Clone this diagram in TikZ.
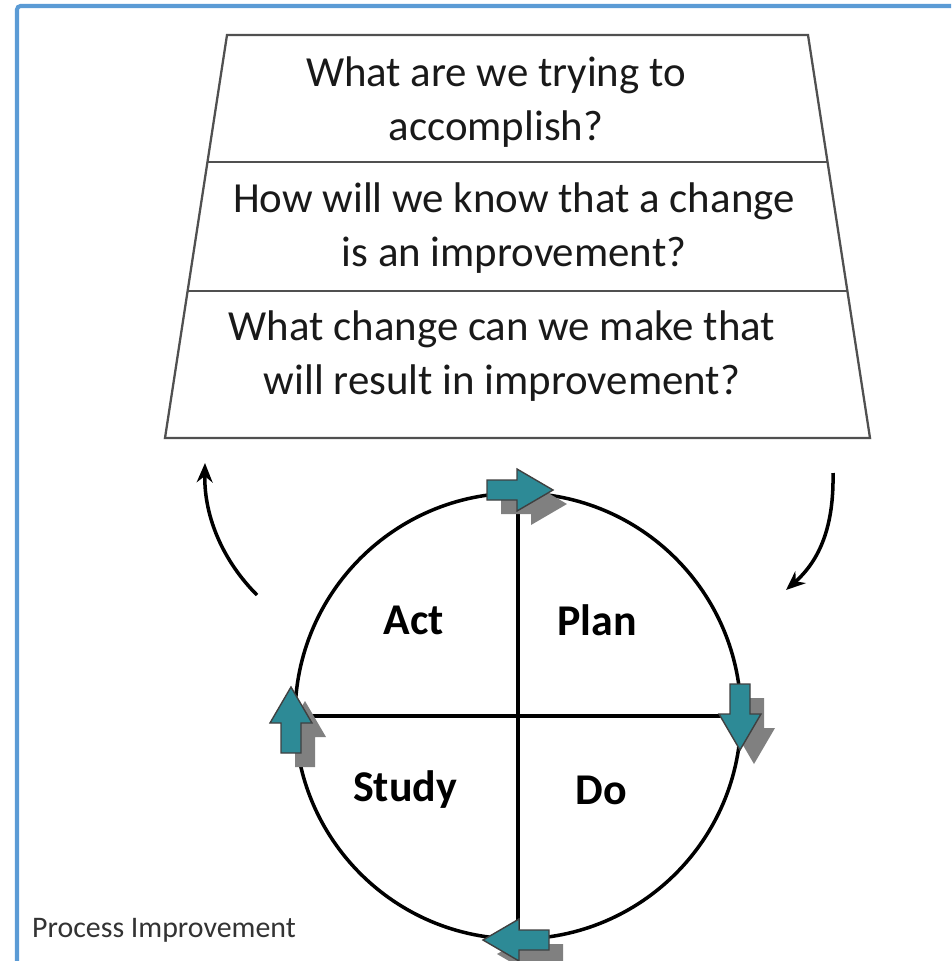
\documentclass[tikz,border=0pt]{standalone}
\usepackage{fontspec}
\setmainfont{Carlito}
\usepackage{tikz}
\usetikzlibrary{calc,positioning,arrows.meta}

\definecolor{frameblue}{RGB}{91,155,213}
\definecolor{pdsateal}{RGB}{45,138,150}
\definecolor{shadowgray}{RGB}{128,128,128}
\definecolor{funnelgray}{RGB}{80,80,80}

% turning arrow on the cycle: x, y, rotation
\newcommand{\cyclearrow}[3]{%
  \begin{scope}[shift={(#1+14,#2+14)},rotate=#3]
    \fill[shadowgray] (-33,-10) -- (-3,-10) -- (-3,-21) -- (33,0) -- (-3,21) -- (-3,10) -- (-33,10) -- cycle;
  \end{scope}
  \begin{scope}[shift={(#1,#2)},rotate=#3]
    \filldraw[fill=pdsateal,draw=black!75,line width=0.8pt] (-33,-10) -- (-3,-10) -- (-3,-21) -- (33,0) -- (-3,21) -- (-3,10) -- (-33,10) -- cycle;
  \end{scope}}

\begin{document}
\begin{tikzpicture}[x=0.02cm,y=-0.02cm,
  question/.style={align=center,text=black!90,font=\fontsize{24.4}{31}\selectfont},
  phase/.style={font=\bfseries\fontsize{25}{30}\selectfont},
  turn/.style={-{Stealth[length=11pt,width=9pt]},line width=2pt}]
\useasboundingbox (0,0) rectangle (951,961);

%Frame
\draw[frameblue,line width=2.3pt,rounded corners=2] (17,961) -- (17,6) -- (951,6);

%Funnel of questions
\coordinate (tl) at (227,35);
\coordinate (tr) at (808,35);
\coordinate (br) at (870,438);
\coordinate (bl) at (165,438);
\draw[funnelgray,line width=1.3pt] (tl) -- (tr) -- (br) -- (bl) -- cycle;
\draw[funnelgray,line width=1.3pt] ($(tl)!0.315!(bl)$) -- ($(tr)!0.315!(br)$);
\draw[funnelgray,line width=1.3pt] ($(tl)!0.635!(bl)$) -- ($(tr)!0.635!(br)$);
\node[question] (aim) at (496,102) {What are we trying to\\accomplish?};
\node[question] (measure) at (514,228) {How will we know that a change\\is an improvement?};
\node[question] (change) at (502,356) {What change can we make that\\will result in improvement?};

%PDSA cycle
\node[draw,circle,line width=2pt,minimum size=8.92cm,inner sep=0pt] (cycle) at (518,716) {};
\draw[line width=2pt] (cycle.north) -- (cycle.south);
\draw[line width=2pt] (cycle.west) -- (cycle.east);
\node[phase] (act) at (414,620) {Act};
\node[phase] (plan) at (597,620) {Plan};
\node[phase] (study) at (405,790) {Study};
\node[phase] (do) at (601,790) {Do};

\cyclearrow{520}{490}{0}
\cyclearrow{740}{717}{-90}
\cyclearrow{516}{940}{180}
\cyclearrow{291}{720}{90}

%Links to the questions
\coordinate (actout) at (257,595);
\coordinate (aimin) at (205,463);
\coordinate (aimout) at (833,473);
\coordinate (planin) at (786,590);
\draw[turn] (actout) .. controls (224,562) and (204,518) .. (aimin);
\draw[turn] (aimout) .. controls (834,526) and (820,560) .. (planin);

\node[anchor=west,text=black!80,font=\fontsize{17}{20}\selectfont] (caption) at (26,930) {Process Improvement};

\end{tikzpicture}
\end{document}
